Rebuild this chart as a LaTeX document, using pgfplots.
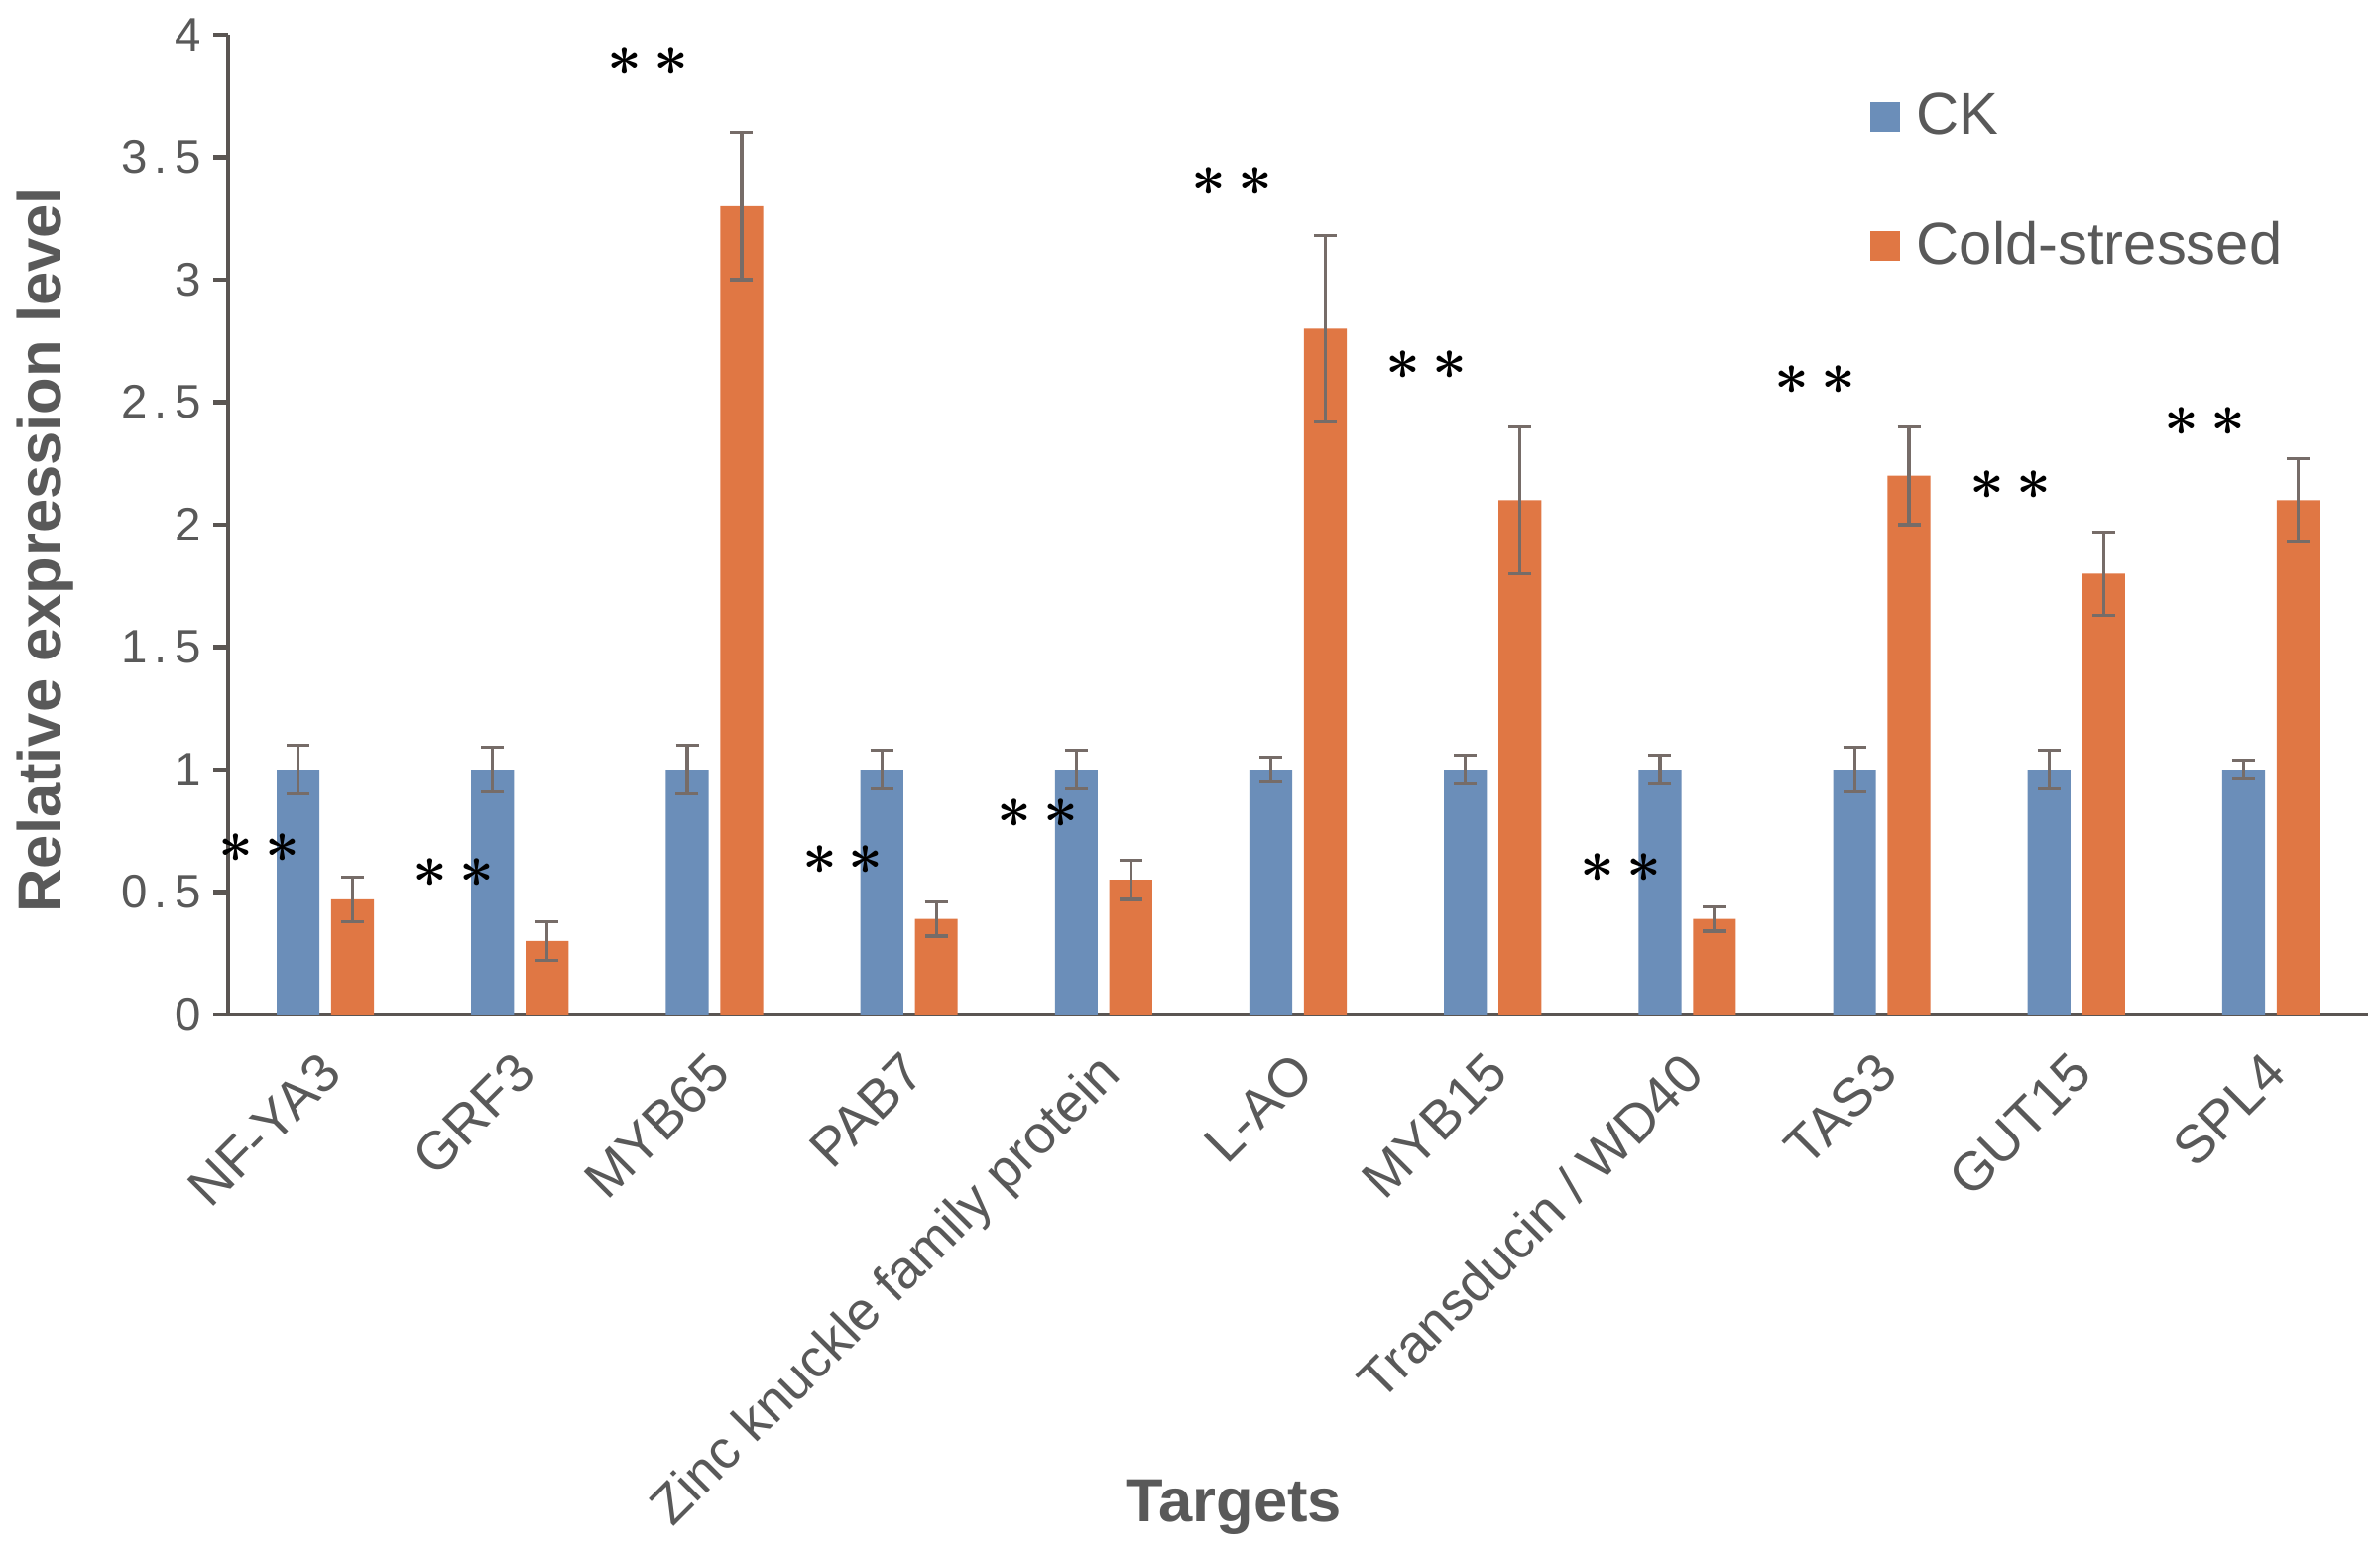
\documentclass[border=0pt]{standalone}
\usepackage{fontspec}
\setmainfont{Liberation Sans}
\newfontfamily\tickfont[LetterSpace=15]{Liberation Sans}
\usepackage{pgfplots}
\pgfplotsset{compat=1.18}
\usepackage{pgfplotstable}

\definecolor{ckblue}{RGB}{107,142,185}
\definecolor{coldorange}{RGB}{224,119,68}
\definecolor{txtgray}{RGB}{89,89,89}
\definecolor{axgray}{RGB}{90,85,82}
\definecolor{errgray}{RGB}{118,108,104}

% relative expression, mean and error
\pgfplotstableread{
x  ck  cke   cold  colde
0  1   0.10  0.47  0.09
1  1   0.09  0.30  0.08
2  1   0.10  3.30  0.30
3  1   0.08  0.39  0.07
4  1   0.08  0.55  0.08
5  1   0.05  2.80  0.38
6  1   0.06  2.10  0.30
7  1   0.06  0.39  0.05
8  1   0.09  2.20  0.20
9  1   0.08  1.80  0.17
10 1   0.04  2.10  0.17
}\datatable

\newcommand{\stars}{{\fontsize{17}{20}\selectfont\boldmath$\ast$\kern0.12cm$\ast$}}

\begin{document}
\begin{tikzpicture}
\begin{axis}[
    scale only axis,
    width=21.58cm, height=9.88cm,
    xmin=-0.5, xmax=10.5,
    ymin=0, ymax=4,
    clip=false,
    axis lines*=left,
    axis line style={axgray, line width=1.2pt},
    ytick={0,0.5,...,4},
    tick align=outside,
    major tick length=0.15cm,
    ytick style={axgray, line width=1.2pt},
    /pgf/number format/assume math mode=true,
    yticklabel style={font=\tickfont\fontsize{13.5}{16}\selectfont, text=txtgray},
    xtick={0,...,10},
    xtick style={draw=none},
    xticklabels={NF-YA3, GRF3, MYB65, PAB7, Zinc knuckle family protein, L-AO, MYB15, Transducin / WD40, TAS3, GUT15, SPL4},
    xticklabel style={rotate=45, anchor=north east, xshift=-0.08cm, yshift=0.04cm, font=\fontsize{15.5}{18}\selectfont, text=txtgray},
    xlabel={Targets},
    xlabel style={at={(axis description cs:0.47,-0.503)}, anchor=center, font=\bfseries\fontsize{17.5}{21}\selectfont, text=txtgray},
    ylabel={Relative expression level},
    ylabel style={at={(axis description cs:-0.0853,0.474)}, anchor=center, font=\bfseries\fontsize{17.5}{21}\selectfont, text=txtgray},
    legend style={at={(axis description cs:0.762,0.955)}, anchor=north west, draw=none, fill=none,
        font=\fontsize{17}{20}\selectfont, text=txtgray, row sep=0.68cm},
    legend cell align=left,
    legend image code/.code={\fill[#1, draw=none] (0cm,-0.15cm) rectangle (0.3cm,0.15cm);
        \path (0.4cm,0cm);},
    error bars/error bar style={line width=0.9pt, color=errgray},
    error bars/error mark options={rotate=90, mark size=0.115cm, line width=0.9pt, color=errgray},
]

\addplot[ybar, bar width=0.22, bar shift=0, fill=ckblue, draw=none,
    error bars/.cd, y dir=both, y explicit]
    table[x expr=\thisrow{x}-0.14, y=ck, y error=cke] {\datatable};
\addlegendentry{CK}

\addplot[ybar, bar width=0.22, bar shift=0, fill=coldorange, draw=none,
    error bars/.cd, y dir=both, y explicit]
    table[x expr=\thisrow{x}+0.14, y=cold, y error=colde] {\datatable};
\addlegendentry{Cold-stressed}

% significance marks
\node[inner sep=0pt] at (axis cs:-0.34,0.68) {\stars};
\node[inner sep=0pt] at (axis cs:0.66,0.58) {\stars};
\node[inner sep=0pt] at (axis cs:1.66,3.89) {\stars};
\node[inner sep=0pt] at (axis cs:2.66,0.63) {\stars};
\node[inner sep=0pt] at (axis cs:3.66,0.82) {\stars};
\node[inner sep=0pt] at (axis cs:4.66,3.40) {\stars};
\node[inner sep=0pt] at (axis cs:5.66,2.65) {\stars};
\node[inner sep=0pt] at (axis cs:6.66,0.60) {\stars};
\node[inner sep=0pt] at (axis cs:7.66,2.59) {\stars};
\node[inner sep=0pt] at (axis cs:8.66,2.16) {\stars};
\node[inner sep=0pt] at (axis cs:9.66,2.42) {\stars};

\coordinate (sw) at (rel axis cs:0,0);
\coordinate (ne) at (rel axis cs:1,1);
\end{axis}
\pgfresetboundingbox
\path[use as bounding box] ([shift={(-2.30cm,-5.41cm)}]sw) rectangle ([shift={(0.12cm,0.35cm)}]ne);
\end{tikzpicture}
\end{document}
